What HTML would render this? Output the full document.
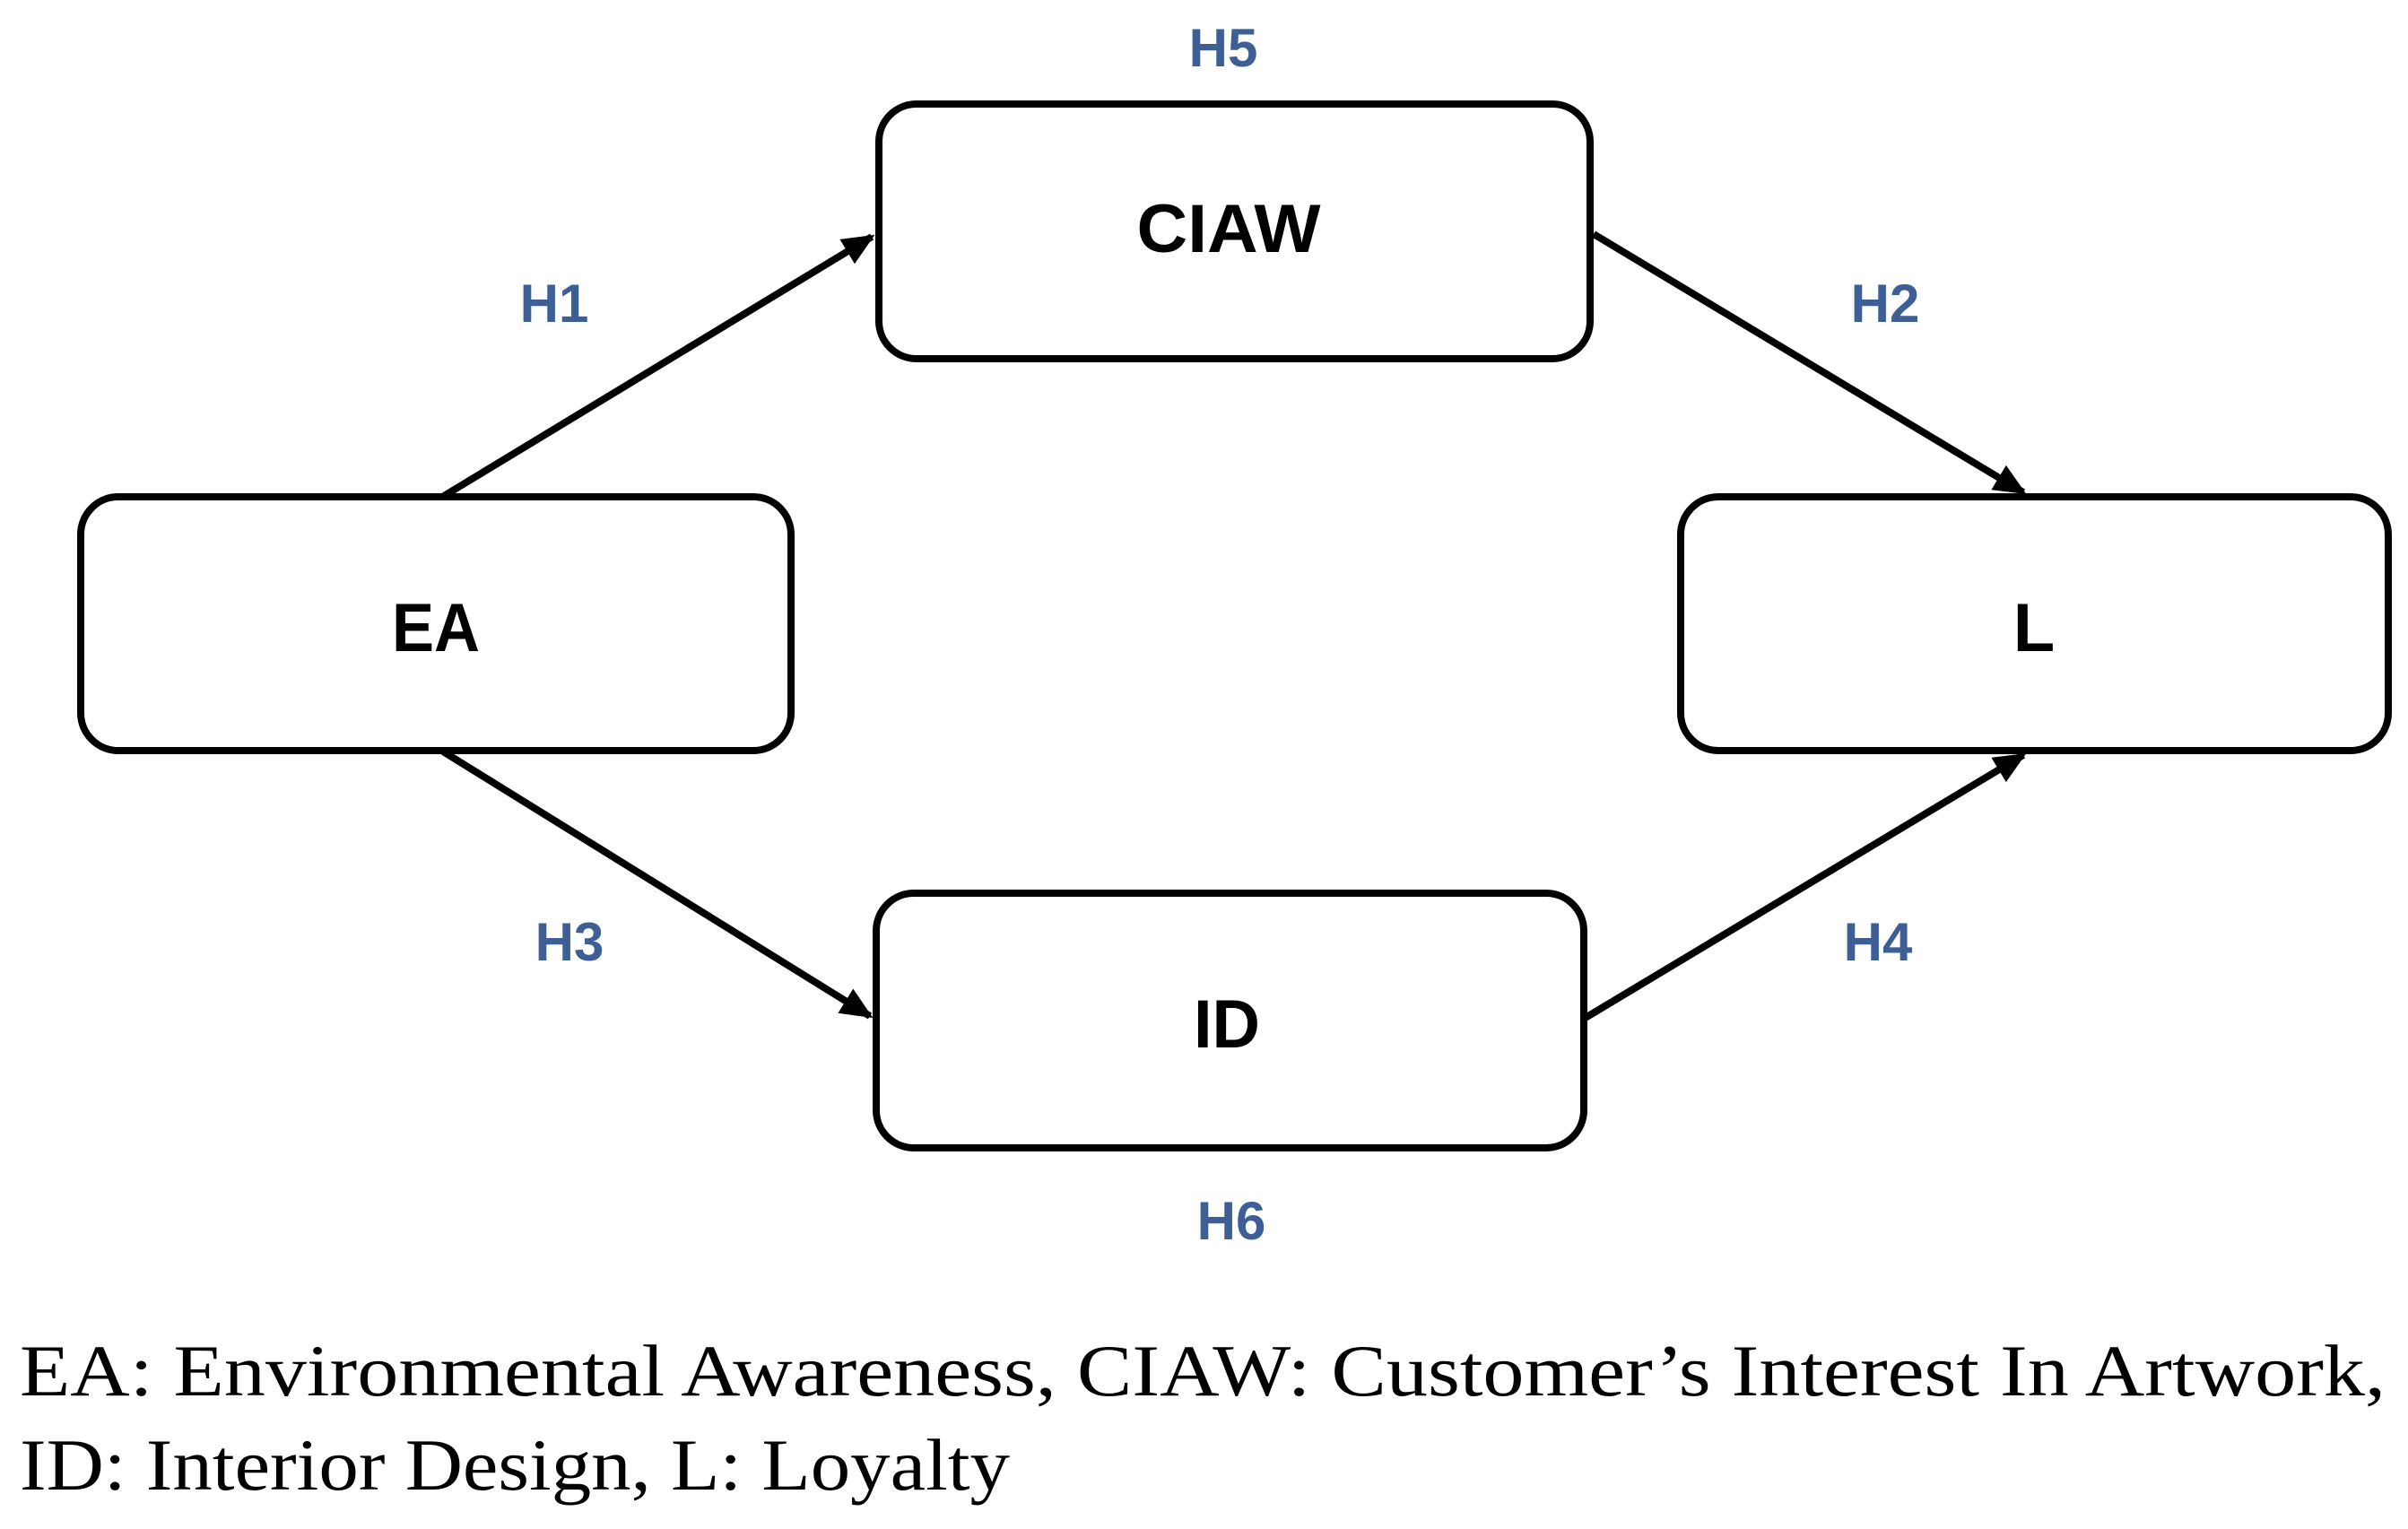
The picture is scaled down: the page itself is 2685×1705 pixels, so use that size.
<!DOCTYPE html>
<html><head><meta charset="utf-8"><style>
html,body{margin:0;padding:0;background:#fff;}
svg{display:block;}
</style></head><body>
<svg width="2685" height="1705" viewBox="0 0 2685 1705" xmlns="http://www.w3.org/2000/svg">
<defs>
<marker id="ah" markerWidth="4.5" markerHeight="4" refX="4" refY="2" orient="auto" markerUnits="strokeWidth">
<path d="M0,0 L4.5,2 L0,4 Z" fill="#000"/>
</marker>
</defs>
<g fill="#fff" stroke="#000" stroke-width="8">
<rect x="980" y="116" width="793" height="284" rx="42"/>
<rect x="90" y="554" width="792" height="283" rx="42"/>
<rect x="1874" y="554" width="789" height="283" rx="42"/>
<rect x="977" y="996" width="789" height="284" rx="42"/>
</g>
<g stroke="#000" stroke-width="8" fill="none">
<line x1="495" y1="553" x2="972" y2="264" marker-end="url(#ah)"/>
<line x1="1777" y1="261" x2="2256" y2="549" marker-end="url(#ah)"/>
<line x1="494" y1="838" x2="970" y2="1133" marker-end="url(#ah)"/>
<line x1="1766" y1="1136" x2="2256" y2="842" marker-end="url(#ah)"/>
</g>
<g font-family="Liberation Sans, sans-serif" font-weight="bold" font-size="76" text-anchor="middle" fill="#000">
<text x="1370" y="281" textLength="205" lengthAdjust="spacingAndGlyphs">CIAW</text>
<text x="486" y="726" textLength="98" lengthAdjust="spacingAndGlyphs">EA</text>
<text x="2268" y="726">L</text>
<text x="1368" y="1168" textLength="74" lengthAdjust="spacingAndGlyphs">ID</text>
</g>
<g font-family="Liberation Sans, sans-serif" font-weight="bold" font-size="60" text-anchor="middle" fill="#3d5f96">
<text x="1364" y="74">H5</text>
<text x="618" y="359">H1</text>
<text x="2102" y="359">H2</text>
<text x="635" y="1071">H3</text>
<text x="2094" y="1071">H4</text>
<text x="1373" y="1382">H6</text>
</g>
<g font-family="Liberation Serif, serif" font-size="82" fill="#000">
<text x="22" y="1556" textLength="2638" lengthAdjust="spacingAndGlyphs">EA: Environmental Awareness, CIAW: Customer’s Interest In Artwork,</text>
<text x="22" y="1661" textLength="1104" lengthAdjust="spacingAndGlyphs">ID: Interior Design, L: Loyalty</text>
</g>
</svg>
</body></html>
